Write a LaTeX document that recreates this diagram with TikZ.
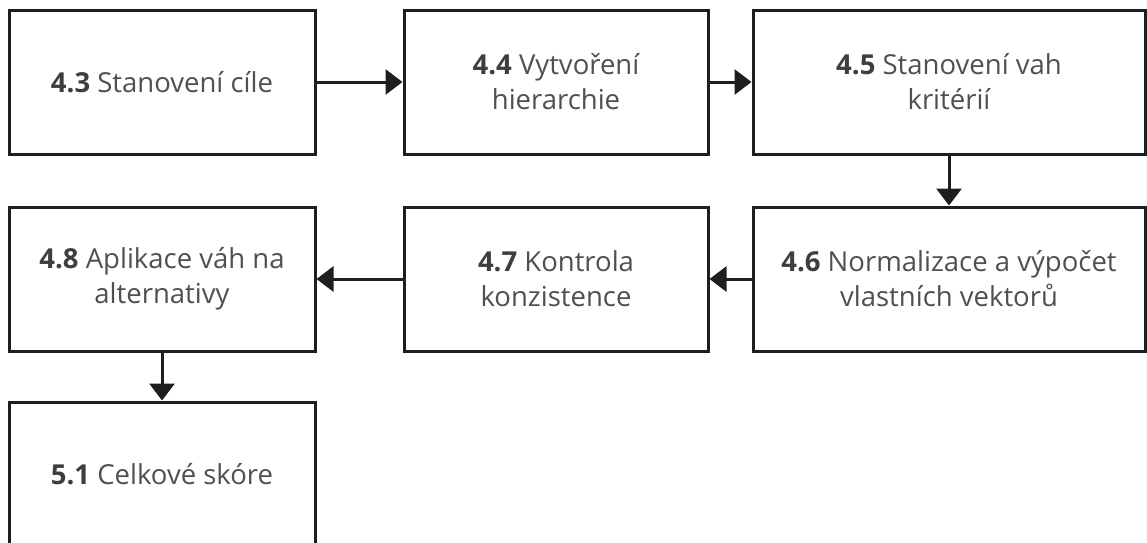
\documentclass[tikz,border=0pt]{standalone}
\usepackage{fontspec}
\setmainfont{Open Sans}
\usepackage{tikz}
\usetikzlibrary{positioning, arrows.meta}
\usepackage{xcolor}
\definecolor{BoxLine}{HTML}{1E1E1E}
\definecolor{StepText}{HTML}{505050}
\definecolor{StepNum}{HTML}{3E3E3E}
\newcommand{\stepnum}[1]{{\bfseries\color{StepNum}#1}}

\begin{document}
\begin{tikzpicture}[x=1pt, y=-1pt,
    stagebox/.style={draw=BoxLine, line width=3pt, fill=white, align=center,
      minimum height=144pt, inner sep=0pt, text=StepText,
      font=\fontsize{27.5}{35}\selectfont},
    flow/.style={draw=BoxLine, line width=3pt,
      -{Triangle[length=17pt, width=25pt]}}]
  \useasboundingbox (0,0) rectangle (1147,542);
  % first row
  \node[stagebox, minimum width=306pt] (cil) at (162,82) {\stepnum{4.3} Stanovení cíle};
  \node[stagebox, minimum width=304pt] (hier) at (556,82) {\stepnum{4.4} Vytvoření\\hierarchie};
  \node[stagebox, minimum width=392pt] (vahy) at (949,82) {\stepnum{4.5} Stanovení vah\\kritérií};
  % second row, right to left
  \node[stagebox, minimum width=392pt] (norm) at (949,279) {\stepnum{4.6} Normalizace a výpočet\\vlastních vektorů};
  \node[stagebox, minimum width=304pt] (kontr) at (556,279) {\stepnum{4.7} Kontrola\\konzistence};
  \node[stagebox, minimum width=306pt] (apl) at (162,279) {\stepnum{4.8} Aplikace váh na\\alternativy};
  % last box runs off the bottom edge
  \node[stagebox, minimum width=306pt] (skore) at (162,474) {\stepnum{5.1} Celkové skóre};

  \draw[flow] (cil) -- (hier);
  \draw[flow] (hier) -- (vahy);
  \draw[flow] (vahy) -- (norm);
  \draw[flow] (norm) -- (kontr);
  \draw[flow] (kontr) -- (apl);
  \draw[flow] (apl) -- (skore);
\end{tikzpicture}
\end{document}
